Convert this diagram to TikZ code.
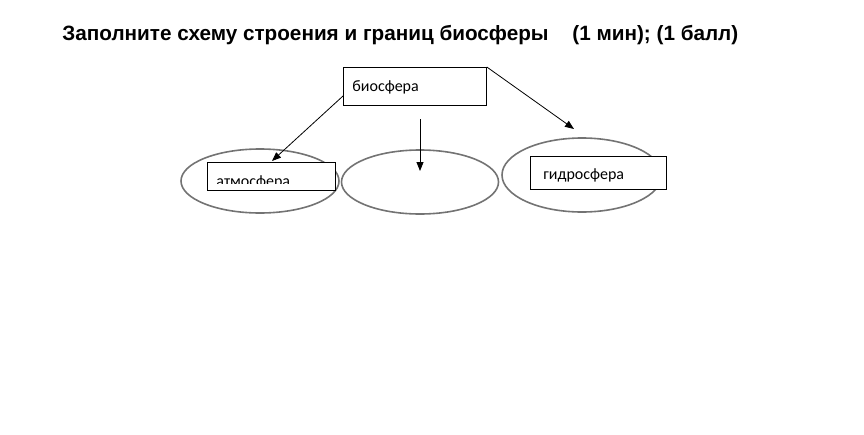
\documentclass[tikz,border=0pt]{standalone}
\usepackage{fontspec}
\setmainfont{Carlito}
\newfontfamily\titlefont{Liberation Sans}
\usetikzlibrary{shapes.geometric,arrows.meta}
\tikzset{
every picture/.style={
line width=0.8pt
},
sphere/.style={ellipse, draw=black!55, line width=1.6pt, inner sep=0pt},
label box/.style={draw, anchor=north west, inner sep=0pt},
link/.style={-{Triangle[length=9pt,width=7pt]}}
}

\begin{document}
\begin{tikzpicture}[x=1pt,y=-1pt]
  \useasboundingbox (0,0) rectangle (864,434);

  \node (title) [anchor=base west, inner sep=0pt] at (62,40) {\titlefont\bfseries\fontsize{20.7}{24}\selectfont Заполните схему строения и границ биосферы\hspace{18pt} (1 мин); (1 балл)};

  \node (e1) [sphere, minimum width=158pt, minimum height=64pt] at (260,181) {};
  \node (e2) [sphere, minimum width=157pt, minimum height=64pt] at (420,182) {};
  \node (e3) [sphere, minimum width=160pt, minimum height=74pt] at (582,175) {};

  \node (bio) [label box, fill=white, minimum width=143pt, minimum height=38pt] at (343,67) {};
  \node (biot) [anchor=base west, inner sep=0pt] at (352,91) {\fontsize{16}{18}\selectfont биосфера};

  \node (atm) [label box, fill=white, minimum width=128pt, minimum height=28pt] at (207,162) {};
  \begin{scope}
    \clip (atm.north west) rectangle ([yshift=7.5pt]atm.south east);
    \node (atmt) [anchor=base west, inner sep=0pt] at (216,186.5) {\fontsize{16}{18}\selectfont атмосфера};
  \end{scope}

  \node (hyd) [label box, fill=white, minimum width=136pt, minimum height=33pt] at (530,156) {};
  \node (hydt) [anchor=base west, inner sep=0pt] at (543,179) {\fontsize{16}{18}\selectfont гидросфера};

  \coordinate (a1) at (272,161);
  \coordinate (m0) at (420,119);
  \coordinate (m1) at (420,171);
  \coordinate (h1) at (574,129);

  \draw [link] ([yshift=-29pt]bio.north west) -- (a1);
  \draw [link] (m0) -- (m1);
  \draw [link] (bio.north east) -- (h1);

\end{tikzpicture}
\end{document}
